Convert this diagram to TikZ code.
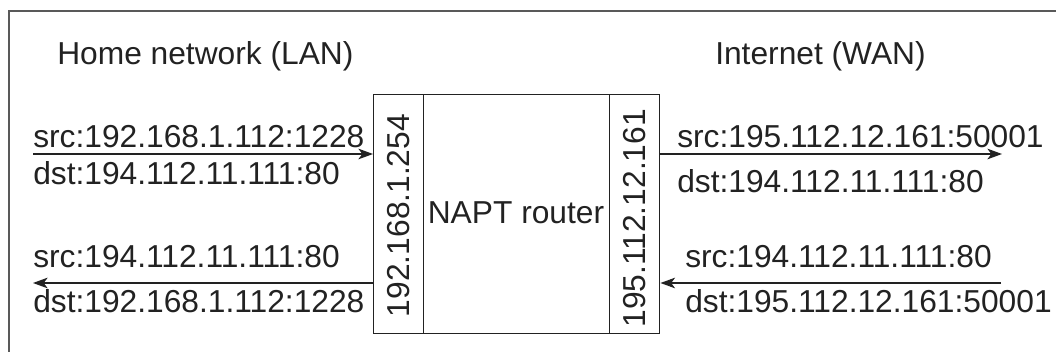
\documentclass[tikz,border=0pt]{standalone}
\usepackage{fontspec}
\setmainfont{Liberation Sans}
\usetikzlibrary{arrows.meta}
\definecolor{ink}{HTML}{222222}
\begin{document}
\begin{tikzpicture}[x=0.75pt,y=-0.75pt,
  txt/.style={inner sep=0pt,text=ink,font=\fontsize{23.8}{28}\selectfont},
  lbl/.style={txt,anchor=base west},
  strip/.style={draw=ink,line width=1.1pt,minimum width=37.5pt,minimum height=179.25pt,inner sep=0pt,anchor=north west},
  core/.style={draw=ink,line width=1.1pt,minimum width=139.5pt,minimum height=179.25pt,inner sep=0pt,anchor=north west},
  flow/.style={draw=ink,line width=0.8pt,-{Stealth[length=11pt,width=8pt,inset=3pt]}},
  frame/.style={draw=black!65,line width=1.2pt}]
\useasboundingbox (0,0) rectangle (1056,352);
% outer frame (partially cropped)
\coordinate (f1) at (9,352);
\coordinate (f2) at (9,11);
\coordinate (f3) at (1056,11);
\draw[frame] (f1) -- (f2) -- (f3);
% headings
\node[lbl] (lan) at (57,65) {Home network (LAN)};
\node[lbl] (wan) at (715,65) {Internet (WAN)};
% router
\node[strip] (ls) at (373,94) {};
\node[core] (core) at (423,94) {};
\node[strip] (rs) at (609,94) {};
\node[txt,rotate=90] (lip) at ([yshift=-1pt]ls.center) {192.168.1.254};
\node[txt,rotate=90] (rip) at ([yshift=-3pt]rs.center) {195.112.12.161};
\node[txt] (napt) at (516,213) {NAPT router};
% left side
\node[lbl] (l1) at (33,148) {src:192.168.1.112:1228};
\node[lbl] (l2) at (33,185) {dst:194.112.11.111:80};
\node[lbl] (l3) at (33,268) {src:194.112.11.111:80};
\node[lbl] (l4) at (33,313) {dst:192.168.1.112:1228};
\coordinate (la) at (33,154);
\coordinate (lb) at (33,283);
\draw[flow] (la) -- (la -| ls.west);
\draw[flow] (lb -| ls.west) -- (lb);
% right side
\node[lbl] (r1) at (677,148) {src:195.112.12.161:50001};
\node[lbl] (r2) at (677,193) {dst:194.112.11.111:80};
\node[lbl] (r3) at (685,268) {src:194.112.11.111:80};
\node[lbl] (r4) at (685,313) {dst:195.112.12.161:50001};
\coordinate (ra) at (1002,154);
\coordinate (rb) at (1001,283);
\draw[flow] (ra -| rs.east) -- (ra);
\draw[flow] (rb) -- (rb -| rs.east);
\end{tikzpicture}
\end{document}
